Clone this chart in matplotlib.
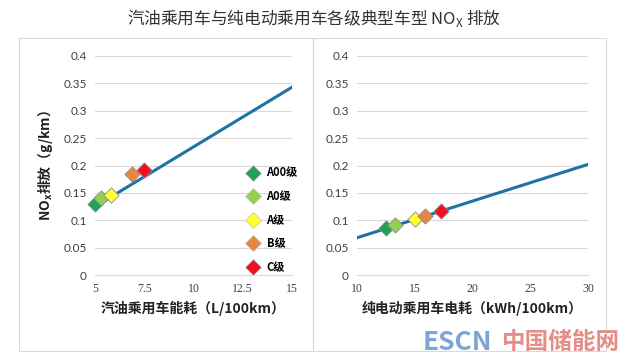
import matplotlib.pyplot as plt
from matplotlib.patches import Rectangle
from matplotlib.lines import Line2D

plt.rcParams['font.family'] = ['Lato', 'Noto Sans CJK SC', 'DejaVu Sans']

# vehicle classes and colours
classes = ["A00级", "A0级", "A级", "B级", "C级"]
class_colors = ["#1EA25A", "#92D050", "#FFFF33", "#E8853E", "#F01020"]

# gasoline: fuel use (L/100km) vs NOx (g/km)
gas_use = [5.0, 5.3, 5.8, 6.9, 7.5]
gas_nox = [0.130, 0.140, 0.147, 0.185, 0.192]
gas_fit_x = [5, 15]
gas_fit_y = [0.125, 0.343]

# electric: power use (kWh/100km) vs NOx (g/km)
ev_use = [12.5, 13.3, 15.0, 15.9, 17.3]
ev_nox = [0.085, 0.091, 0.102, 0.107, 0.117]
ev_fit_x = [10, 30]
ev_fit_y = [0.068, 0.202]

y_ticks = [0, 0.05, 0.1, 0.15, 0.2, 0.25, 0.3, 0.35, 0.4]
y_ticklabels = ["0", "0.05", "0.1", "0.15", "0.2", "0.25", "0.3", "0.35", "0.4"]
gas_xticks = [5, 7.5, 10, 12.5, 15]
ev_xticks = [10, 15, 20, 25, 30]

line_color = "#1F72A6"
W, H = 628, 359

fig = plt.figure(figsize=(6.28, 3.59), dpi=100)

# panel frames
for x0, x1 in [(19, 313), (313, 606)]:
    fig.patches.append(Rectangle((x0 / W, 1 - 351 / H), (x1 - x0) / W, (351 - 38) / H,
                                 transform=fig.transFigure, fill=False,
                                 edgecolor="#D9D9D9", linewidth=0.8))

fig.text(0.5, 1 - 18 / H, "汽油乘用车与纯电动乘用车各级典型车型 NO$_\\mathregular{X}$ 排放",
         ha="center", va="center", fontsize=12, color="#333333",
         family=["Noto Sans CJK SC"], fontweight="light")


def setup(ax, xticks, xlabel):
    ax.set_ylim(0, 0.4)
    ax.set_yticks(y_ticks)
    ax.set_yticklabels(y_ticklabels)
    ax.set_xlim(xticks[0], xticks[-1])
    ax.set_xticks(xticks)
    ax.set_xticklabels([f"{t:g}" for t in xticks], family="Liberation Serif")
    ax.grid(axis="y", color="#D9D9D9", linewidth=0.8)
    ax.set_axisbelow(True)
    for s in ["top", "right", "left"]:
        ax.spines[s].set_visible(False)
    ax.spines["bottom"].set_color("#D9D9D9")
    ax.tick_params(length=0, labelsize=8.5, colors="#404040", pad=6)
    ax.set_xlabel(xlabel, fontsize=10, fontweight="bold", color="#222222",
                  family=["Noto Sans CJK SC"], labelpad=4)


ax1 = fig.add_axes([95 / W, 1 - 275 / H, 197 / W, 219 / H])
ax2 = fig.add_axes([357 / W, 1 - 275 / H, 231 / W, 219 / H])

setup(ax1, gas_xticks, "汽油乘用车能耗（L/100km）")
setup(ax2, ev_xticks, "纯电动乘用车电耗（kWh/100km）")
ax1.set_ylabel("NO$_\\mathregular{x}$排放（g/km）", fontsize=10, fontweight="bold",
               color="#222222", family=["Noto Sans CJK SC"], labelpad=6)

for ax, fx, fy, xs, ys in [(ax1, gas_fit_x, gas_fit_y, gas_use, gas_nox),
                           (ax2, ev_fit_x, ev_fit_y, ev_use, ev_nox)]:
    ax.plot(fx, fy, color=line_color, linewidth=2.2, zorder=2)
    for x, y, c in zip(xs, ys, class_colors):
        ax.scatter([x], [y], marker="D", s=60, color=c, edgecolor="#8C8C8C",
                   linewidth=0.6, zorder=3, clip_on=False)

handles = [Line2D([], [], linestyle="none", marker="D", markersize=8,
                  markerfacecolor=c, markeredgecolor="#BFBFBF", markeredgewidth=0.5)
           for c in class_colors]
ax1.legend(handles, classes, loc="lower right", bbox_to_anchor=(1.08, -0.04),
           frameon=False, handletextpad=0.2, labelspacing=0.95,
           prop={"family": ["Noto Sans CJK SC"], "size": 8, "weight": "bold"})

# watermark
fig.text(1 - 8 / W, 1 - 342 / H, "中国储能网", ha="right", va="center", fontsize=17,
         color="#E07A70", family=["Noto Sans CJK SC"], fontweight="bold", alpha=0.85)
fig.text(1 - 136 / W, 1 - 342 / H, "ESCN", ha="right", va="center", fontsize=19,
         color="#6495CC", family=["Noto Sans CJK SC"], fontweight="black", alpha=0.85)

fig.savefig("out.png", dpi=100)
